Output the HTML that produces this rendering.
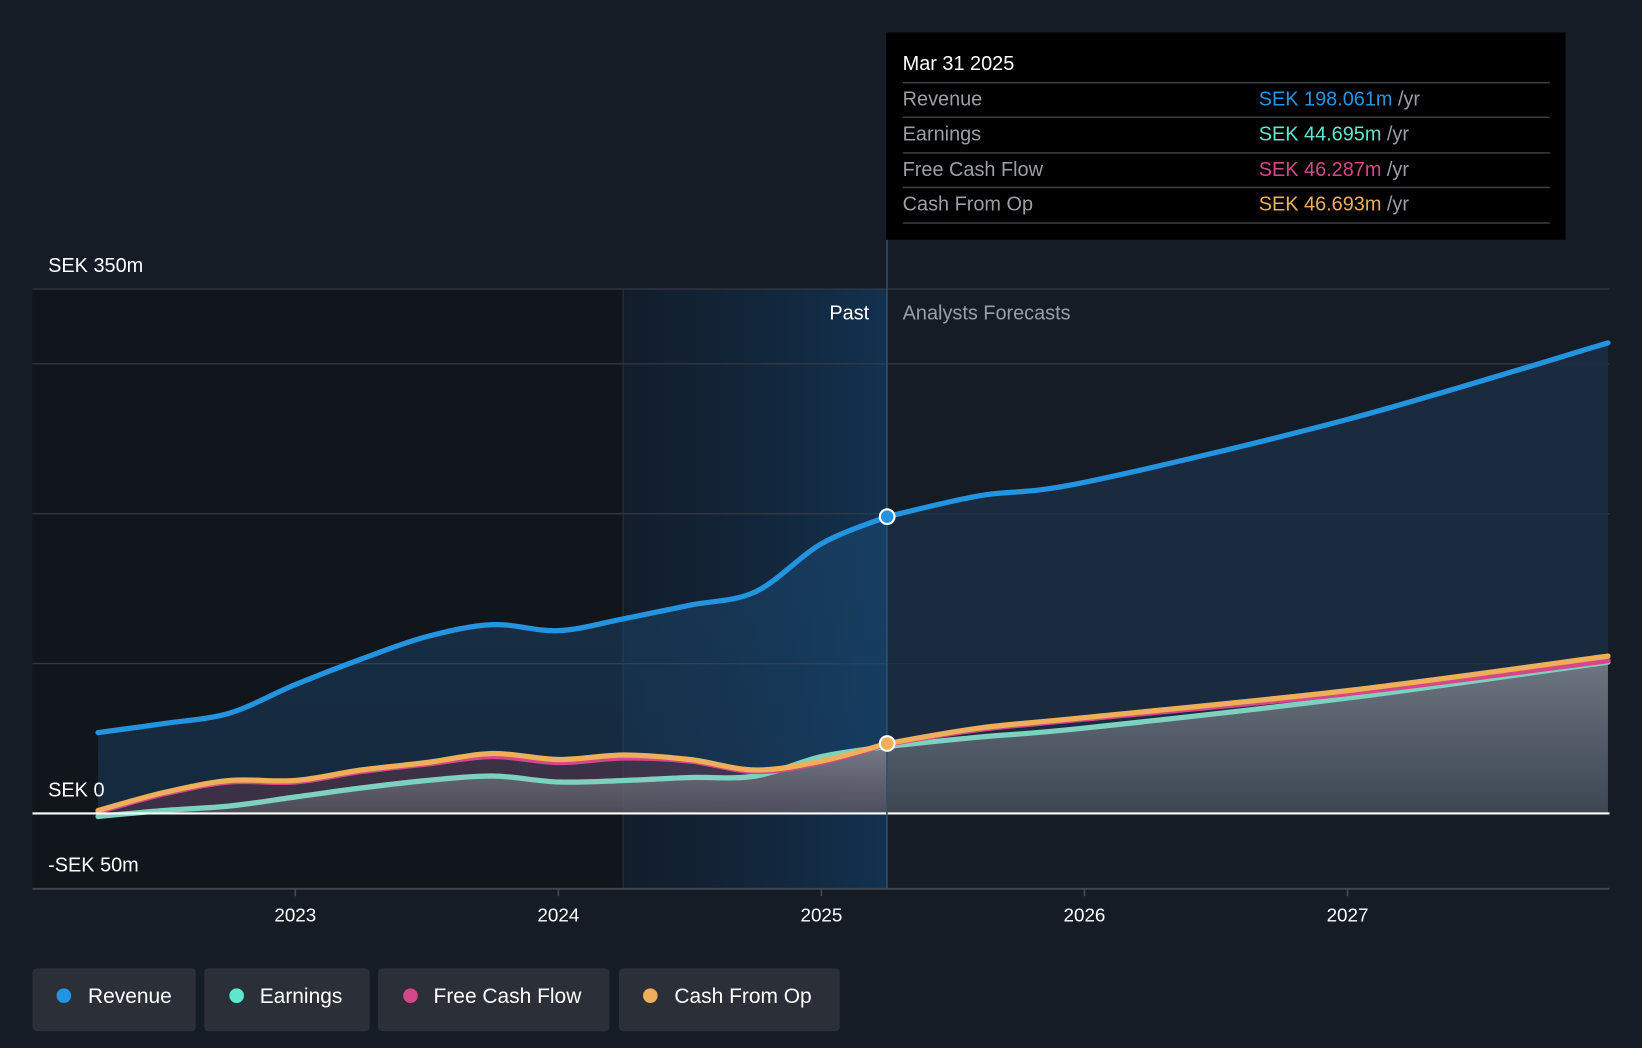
<!DOCTYPE html>
<html><head><meta charset="utf-8">
<style>
html,body{margin:0;padding:0;background:#161c26;width:1642px;height:1048px;overflow:hidden}
svg{display:block;font-family:"Liberation Sans",sans-serif}
</style></head>
<body>
<svg id="chart" width="1642" height="1048" viewBox="0 0 1568 1001" preserveAspectRatio="none" xmlns="http://www.w3.org/2000/svg">
<defs>
<linearGradient id="pastGrad" x1="0" x2="1" y1="0" y2="0">
<stop offset="0" stop-color="#0f1e2e" stop-opacity="0.6"/><stop offset="1" stop-color="#123352" stop-opacity="0.95"/>
</linearGradient>
<linearGradient id="revFill" x1="0" x2="0" y1="0" y2="1">
<stop offset="0" stop-color="#1d4f7c" stop-opacity="0.45"/><stop offset="1" stop-color="#1d4f7c" stop-opacity="0.35"/>
</linearGradient>
<linearGradient id="earnFill" x1="0" x2="0" y1="0" y2="1">
<stop offset="0" stop-color="#8a8f96" stop-opacity="0.75"/><stop offset="1" stop-color="#5a5e66" stop-opacity="0.55"/>
</linearGradient>
</defs>
<rect x="0" y="0" width="1568" height="1001" fill="#161c26"/>
<rect x="31" y="276" width="564" height="573" fill="#11151c"/>
<rect x="595" y="276" width="252" height="573" fill="url(#pastGrad)"/>
<line x1="595" y1="276" x2="595" y2="849" stroke="#1f3345" stroke-width="1"/>
<g id="grid"></g>
<g id="areas"></g>
<g id="lines"></g>
<line x1="31" y1="777" x2="1537" y2="777" stroke="#ffffff" stroke-width="2"/>
<line x1="31" y1="849" x2="1537" y2="849" stroke="#444b55" stroke-width="1.5"/>
<line x1="847" y1="229" x2="847" y2="849" stroke="#2b4f74" stroke-width="1.5"/>
<g id="xticks"></g>
<g id="yticks"></g>
<g id="markers"></g>
<text x="830" y="305" text-anchor="end" fill="#ffffff" font-size="19">Past</text>
<text x="862" y="305" fill="#9a9ea5" font-size="19">Analysts Forecasts</text>

<g>
<rect x="846" y="31" width="649" height="198" fill="#000000"/>
<text x="862" y="67" fill="#ffffff" font-size="19">Mar 31 2025</text>
<g stroke="#3a3d42" stroke-width="1.5">
<line x1="862" y1="79" x2="1480" y2="79"/><line x1="862" y1="112" x2="1480" y2="112"/>
<line x1="862" y1="146" x2="1480" y2="146"/><line x1="862" y1="179" x2="1480" y2="179"/>
<line x1="862" y1="213" x2="1480" y2="213"/></g>
<g font-size="19" fill="#9a9ea5">
<text x="862" y="101">Revenue</text><text x="862" y="134">Earnings</text>
<text x="862" y="168">Free Cash Flow</text><text x="862" y="201">Cash From Op</text></g>
<g font-size="19">
<text x="1202" y="101"><tspan fill="#2394e0">SEK 198.061m</tspan><tspan fill="#9a9ea5"> /yr</tspan></text>
<text x="1202" y="134"><tspan fill="#5ee6d0">SEK 44.695m</tspan><tspan fill="#9a9ea5"> /yr</tspan></text>
<text x="1202" y="168"><tspan fill="#d4478a">SEK 46.287m</tspan><tspan fill="#9a9ea5"> /yr</tspan></text>
<text x="1202" y="201"><tspan fill="#eeae5a">SEK 46.693m</tspan><tspan fill="#9a9ea5"> /yr</tspan></text>
</g></g>

<g font-size="20" fill="#ffffff">
<g><rect x="31" y="925" width="156" height="60" rx="4" fill="#2a2f38"/><circle cx="61" cy="951" r="7" fill="#2394e0"/><text x="84" y="958" fill="#fff">Revenue</text></g>
<g><rect x="195" y="925" width="158" height="60" rx="4" fill="#2a2f38"/><circle cx="226" cy="951" r="7" fill="#5ee6d0"/><text x="248" y="958" fill="#fff">Earnings</text></g>
<g><rect x="361" y="925" width="221" height="60" rx="4" fill="#2a2f38"/><circle cx="392" cy="951" r="7" fill="#d4478a"/><text x="414" y="958" fill="#fff">Free Cash Flow</text></g>
<g><rect x="591" y="925" width="211" height="60" rx="4" fill="#2a2f38"/><circle cx="621" cy="951" r="7" fill="#eeae5a"/><text x="644" y="958" fill="#fff">Cash From Op</text></g>
</g>
</svg>
<script>
const dates = [2022.25,2022.5,2022.75,2023.0,2023.25,2023.5,2023.75,2024.0,2024.25,2024.5,2024.75,2025.0,2025.25];
const revenue = [54,60,67,86,103,118,126,122,130,139,148,180,198.06];
const earnings = [-2,2,5,11,17,22,25,21,22,24,25,38,44.7];
const fcf = [1,13,21,21,28,33,38,34,37,35,28,34,46.29];
const cfo = [2,14,22,22,29,34,40,36,39,36,29,35,46.69];
const fDates = [2025.25,2025.6,2026.0,2027.0,2027.99];
const fRevenue = [198.06,212,221,263,314];
const fEarnings = [44.7,51,57,77,101];
const fFcf = [46.29,56,63,80,102];
const fCfo = [46.69,57,64,82,105];
const yTicks = [350,300,200,100,0,-50];
const yLabels = ["SEK 350m","SEK 0","-SEK 50m"];
const yLabelVals = [350,0,-50];
const xTicks = [2023,2024,2025,2026,2027];

const NS="http://www.w3.org/2000/svg";
const X = d => 282 + (d-2023)*251.2;
const Y = v => 777 - v*1.4314;
function el(tag, attrs, parent){const e=document.createElementNS(NS,tag);for(const k in attrs)e.setAttribute(k,attrs[k]);parent.appendChild(e);return e;}
function pathD(ds, vs){
  const p=ds.map((d,i)=>[X(d),Y(vs[i])]);
  let s=`M${p[0][0]},${p[0][1]}`;
  for(let i=0;i<p.length-1;i++){
    const p0=p[i-1]||p[i],p1=p[i],p2=p[i+1],p3=p[i+2]||p2;
    const c1=[p1[0]+(p2[0]-p0[0])/6,p1[1]+(p2[1]-p0[1])/6];
    const c2=[p2[0]-(p3[0]-p1[0])/6,p2[1]-(p3[1]-p1[1])/6];
    s+=` C${c1[0]},${c1[1]} ${c2[0]},${c2[1]} ${p2[0]},${p2[1]}`;
  }
  return s;
}
function areaD(ds,vs){return pathD(ds,vs)+` L${X(ds[ds.length-1])},${Y(0)} L${X(ds[0])},${Y(0)} Z`;}

const grid=document.getElementById('grid');
yTicks.forEach(v=>{
  const l=el('line',{x1:31,x2:1537,y1:Y(v),y2:Y(v),stroke:'#343a44','stroke-width':1.2},grid);
  
  
});
const yt=document.getElementById('yticks');
yLabels.forEach((t,i)=>{
  const tx=el('text',{x:46,y:Y(yLabelVals[i])-16,fill:'#ffffff','font-size':19},yt);
  tx.textContent=t;
  
  
});
const xt=document.getElementById('xticks');
xTicks.forEach(d=>{
  el('line',{x1:X(d),x2:X(d),y1:849,y2:856,stroke:'#444b55','stroke-width':1.5},xt);
  const tx=el('text',{x:X(d),y:880,fill:'#ffffff','font-size':18,'text-anchor':'middle'},xt);
  tx.textContent=String(d);
  
  
});

const areas=document.getElementById('areas');
const ra=el('path',{d:areaD(dates,revenue),fill:'url(#revFill)'},areas);


const rfa=el('path',{d:areaD(fDates,fRevenue),fill:'#1c3046','fill-opacity':0.8},areas);


const ca=el('path',{d:areaD(dates,cfo),fill:'#6b3a4e','fill-opacity':0.45},areas);


const ea=el('path',{d:areaD(dates,earnings),fill:'url(#earnFill)'},areas);


const efa=el('path',{d:areaD(fDates,fEarnings),fill:'url(#earnFill)'},areas);



const lines=document.getElementById('lines');
const series=[
  ['earnings',dates,earnings,'#7fd1bf',fDates,fEarnings,'#7fd1bf'],
  ['free-cash-flow',dates,fcf,'#d4478a',fDates,fFcf,'#d4478a'],
  ['cash-from-op',dates,cfo,'#eeae5a',fDates,fCfo,'#eeae5a'],
  ['revenue',dates,revenue,'#2394e0',fDates,fRevenue,'#2394e0']
];
series.forEach(s=>{
  const p=el('path',{d:pathD(s[1],s[2]),fill:'none',stroke:s[3],'stroke-width':5,'stroke-linecap':'round'},lines);
  
  
  const f=el('path',{d:pathD(s[4],s[5]),fill:'none',stroke:s[6],'stroke-width':5,'stroke-linecap':'round'},lines);
  
  
});
const mk=document.getElementById('markers');
const last=dates.length-1;
const m1=el('circle',{cx:X(dates[last]),cy:Y(revenue[last]),r:7,fill:'#2394e0',stroke:'#fff','stroke-width':2},mk);


const m2=el('circle',{cx:X(dates[last]),cy:Y(cfo[last]),r:7,fill:'#eeae5a',stroke:'#fff','stroke-width':2},mk);


</script>
</body></html>
